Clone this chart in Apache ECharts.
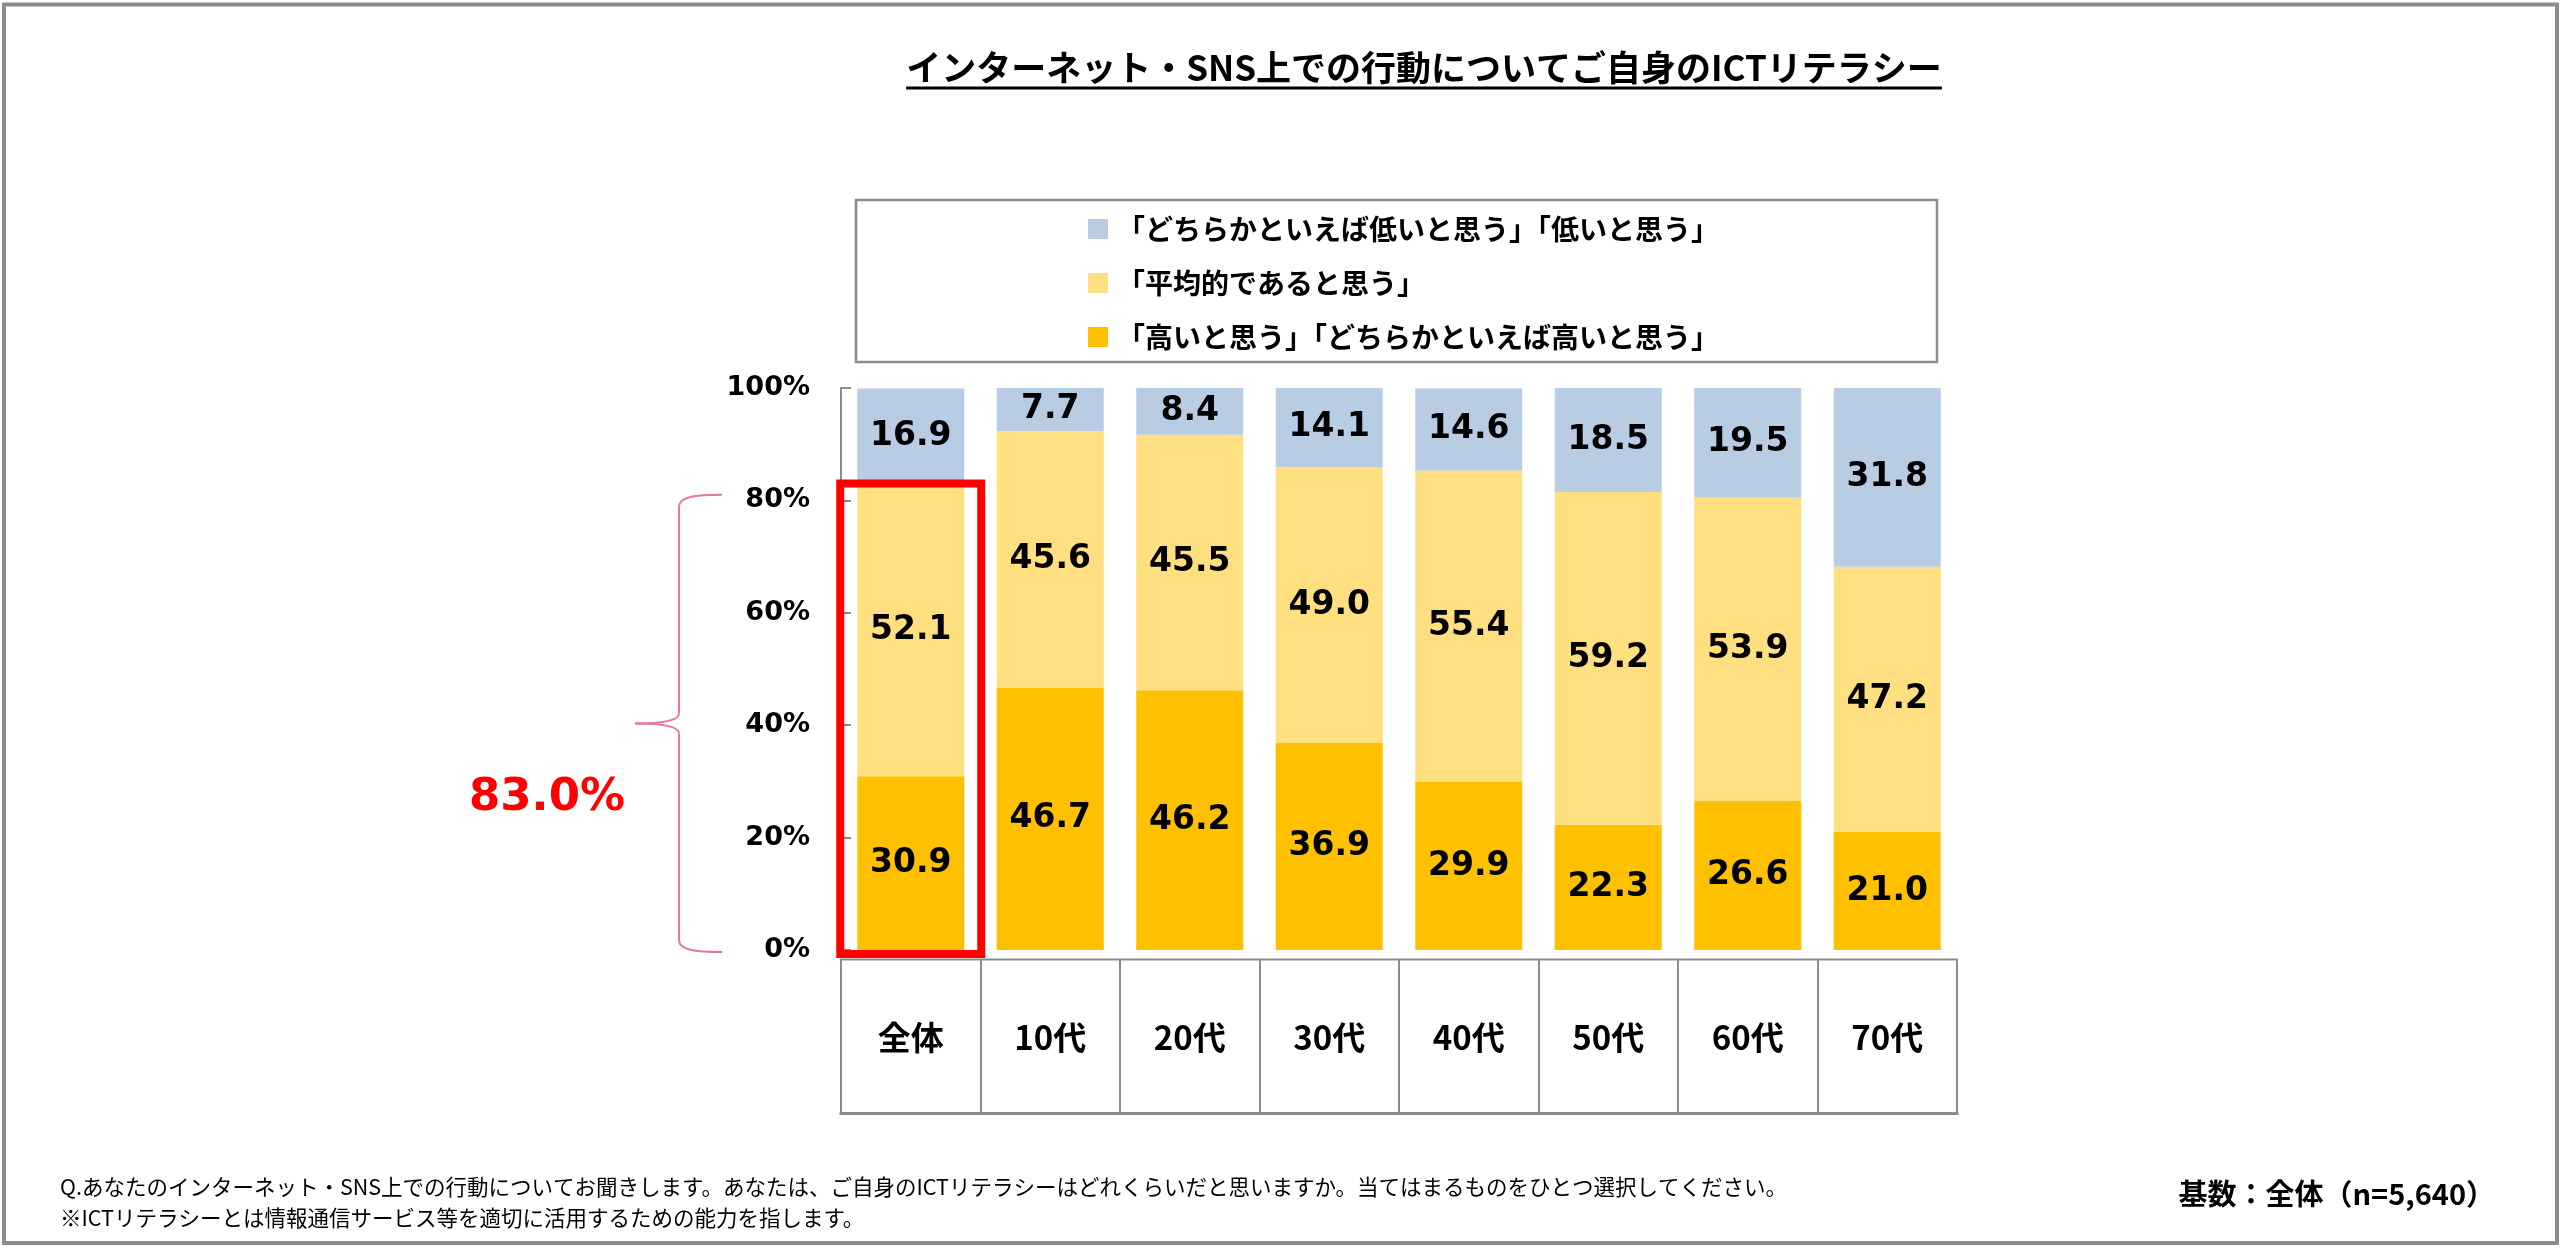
<!DOCTYPE html>
<html>
<head>
<meta charset="utf-8">
<script src="https://cdn.jsdelivr.net/npm/echarts@6/dist/echarts.min.js"></script>
<style>
  html, body { margin: 0; padding: 0; background: #fff; }
  #main { width: 2560px; height: 1253px; }
</style>
</head>
<body>
<div id="main"></div>
<script>
// データ（%）
var categories = ['全体', '10代', '20代', '30代', '40代', '50代', '60代', '70代'];
var highValues = [30.9, 46.7, 46.2, 36.9, 29.9, 22.3, 26.6, 21.0];
var avgValues  = [52.1, 45.6, 45.5, 49.0, 55.4, 59.2, 53.9, 47.2];
var lowValues  = [16.9, 7.7, 8.4, 14.1, 14.6, 18.5, 19.5, 31.8];
var seriesNames = [
  '「どちらかといえば低いと思う」「低いと思う」',
  '「平均的であると思う」',
  '「高いと思う」「どちらかといえば高いと思う」'
];
var yTicks = [0, 20, 40, 60, 80, 100];
var braceTop = 81;

var titleText = 'インターネット・SNS上での行動についてご自身のICTリテラシー';
var note1 = 'Q.あなたのインターネット・SNS上での行動についてお聞きします。あなたは、ご自身のICTリテラシーはどれくらいだと思いますか。当てはまるものをひとつ選択してください。';
var note2 = '※ICTリテラシーとは情報通信サービス等を適切に活用するための能力を指します。';
var baseText = '基数：全体（n=5,640）';

var JP = '"Noto Sans CJK JP", "Noto Sans", sans-serif';
var NUM = '"DejaVu Sans", Verdana, sans-serif';
var GRAY = '#8c8c8c';

var myChart = echarts.init(document.getElementById('main'));

function barLabel() {
  return {
    show: true,
    position: 'inside',
    color: '#000',
    fontFamily: NUM,
    fontWeight: 'bold',
    fontSize: 33,
    formatter: function (p) { return p.value.toFixed(1); }
  };
}

var option = {
  backgroundColor: '#fff',
  animation: false,
  legend: {
    data: seriesNames,
    orient: 'vertical',
    left: 1088,
    top: 214,
    padding: 0,
    itemWidth: 20,
    itemHeight: 20,
    itemGap: 24,
    icon: 'rect',
    selectedMode: false,
    textStyle: {
      fontFamily: JP,
      fontWeight: 'bold',
      fontSize: 28,
      lineHeight: 30,
      color: '#000',
      padding: [0, 0, 0, 4]
    }
  },
  grid: [
    { left: 841, width: 1116, top: 388, height: 562 },
    { left: 841, width: 1116, top: 959.5, height: 154, show: true, borderColor: GRAY, borderWidth: 2 }
  ],
  xAxis: [
    { gridIndex: 0, type: 'category', data: categories, show: false },
    {
      gridIndex: 1, type: 'category', data: categories, position: 'top',
      axisLine: { show: true, lineStyle: { color: GRAY, width: 3 } },
      axisTick: { show: false },
      splitLine: { show: true, lineStyle: { color: GRAY, width: 2 } },
      axisLabel: {
        inside: true, margin: 78, verticalAlign: 'middle',
        fontFamily: JP, fontWeight: 'bold', fontSize: 33, color: '#000'
      }
    },
    {
      gridIndex: 1, type: 'category', data: categories, position: 'bottom',
      axisLine: { show: true, lineStyle: { color: GRAY, width: 3 } },
      axisTick: { show: false },
      axisLabel: { show: false }
    }
  ],
  yAxis: [
    {
      gridIndex: 0, type: 'value', min: yTicks[0], max: yTicks[yTicks.length - 1], interval: 20,
      axisLine: { show: true, lineStyle: { color: GRAY, width: 2 } },
      axisTick: { show: true, inside: true, length: 10, lineStyle: { color: GRAY, width: 2 } },
      splitLine: { show: false },
      axisLabel: {
        formatter: '{value}%', margin: 31,
        fontFamily: NUM, fontWeight: 'bold', fontSize: 27, color: '#000'
      }
    },
    { gridIndex: 1, type: 'value', show: false }
  ],
  series: [
    {
      name: seriesNames[2], type: 'bar', stack: 'total', barWidth: 107,
      xAxisIndex: 0, yAxisIndex: 0,
      itemStyle: { color: '#ffc000' }, label: barLabel(), data: highValues
    },
    {
      name: seriesNames[1], type: 'bar', stack: 'total', barWidth: 107,
      xAxisIndex: 0, yAxisIndex: 0,
      itemStyle: { color: '#ffdf80' }, label: barLabel(), data: avgValues
    },
    {
      name: seriesNames[0], type: 'bar', stack: 'total', barWidth: 107,
      xAxisIndex: 0, yAxisIndex: 0,
      itemStyle: { color: '#b8cce4' }, label: barLabel(), data: lowValues
    }
  ]
};
myChart.setOption(option);

// 注記類（枠・波括弧・タイトル下線）
var ctx = document.createElement('canvas').getContext('2d');
ctx.font = 'bold 35px ' + JP;
var titleW = ctx.measureText(titleText).width;
var titleX = 1424;

var total = highValues[0] + avgValues[0];
var cx = myChart.convertToPixel({ xAxisIndex: 0 }, categories[0]);
var yTotal = myChart.convertToPixel({ yAxisIndex: 0 }, total);
var y0 = myChart.convertToPixel({ yAxisIndex: 0 }, 0);
var yB = myChart.convertToPixel({ yAxisIndex: 0 }, braceTop);
var yBot = y0 + 2;
var ym = (yB + yBot) / 2;
var bx = 679, tipX = 635, armX = 722;
var PINK = '#e3789a';

function curve(x1, y1, c1x, c1y, c2x, c2y, x2, y2) {
  return { type: 'bezierCurve', z: 100,
    shape: { x1: x1, y1: y1, cpx1: c1x, cpy1: c1y, cpx2: c2x, cpy2: c2y, x2: x2, y2: y2 },
    style: { fill: 'none', stroke: PINK, lineWidth: 2 } };
}
function seg(x1, y1, x2, y2) {
  return { type: 'line', z: 100, shape: { x1: x1, y1: y1, x2: x2, y2: y2 },
    style: { stroke: PINK, lineWidth: 2 } };
}
function txt(text, x, y, font, color, align) {
  return {
    type: 'text', z: 100,
    style: {
      text: text, x: x, y: y, font: font, fill: color || '#000',
      align: align || 'left', verticalAlign: 'middle',
      textAlign: align || 'left', textVerticalAlign: 'middle'
    }
  };
}

myChart.setOption({
  graphic: [
    { type: 'rect', z: 100, shape: { x: 4, y: 4.5, width: 2553, height: 1238.5 },
      style: { fill: 'none', stroke: GRAY, lineWidth: 4 } },
    { type: 'rect', z: 100, shape: { x: 856, y: 200, width: 1081, height: 162 },
      style: { fill: 'none', stroke: GRAY, lineWidth: 2.5 } },
    txt(titleText, titleX, 68, 'bold 35px ' + JP, '#000', 'center'),
    { type: 'line', z: 100,
      shape: { x1: titleX - titleW / 2, y1: 88, x2: titleX + titleW / 2, y2: 88 },
      style: { stroke: '#000', lineWidth: 3 } },
    { type: 'rect', z: 100,
      shape: { x: cx - 70.5, y: yTotal, width: 141, height: y0 + 4 - yTotal },
      style: { fill: 'none', stroke: '#ff0000', lineWidth: 8 } },
    curve(armX, yB, bx + 16, yB, bx, yB + 2, bx, yB + 12),
    seg(bx, yB + 12, bx, ym - 10),
    curve(bx, ym - 10, bx, ym - 2, bx - 20, ym, tipX, ym),
    curve(tipX, ym, bx - 20, ym, bx, ym + 2, bx, ym + 10),
    seg(bx, ym + 10, bx, yBot - 12),
    curve(bx, yBot - 12, bx, yBot - 2, bx + 16, yBot, armX, yBot),
    txt(total.toFixed(1) + '%', 547, 798, 'bold 45px ' + NUM, '#ff0000', 'center'),
    txt(note1, 60, 1187, '21.5px ' + JP),
    txt(note2, 60, 1218, '21.5px ' + JP),
    txt(baseText, 2495, 1194, 'bold 29px ' + JP, '#000', 'right')
  ]
});
</script>
</body>
</html>
